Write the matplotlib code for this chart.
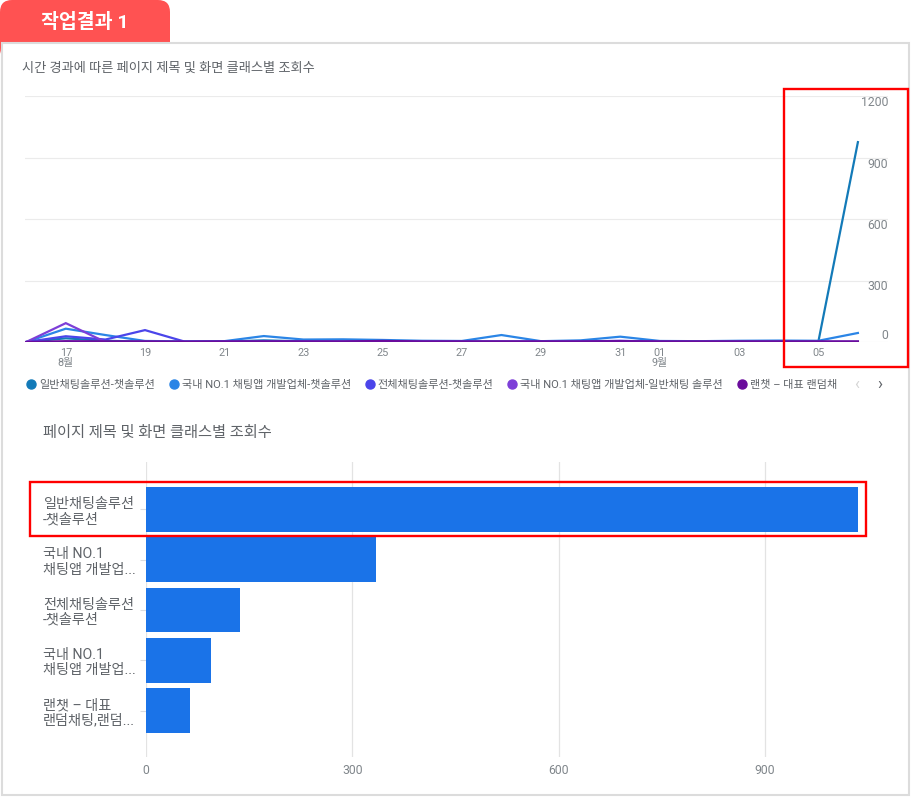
import numpy as np
import matplotlib
matplotlib.use("Agg")
import matplotlib.pyplot as plt
from matplotlib.patches import Rectangle, FancyBboxPatch
from matplotlib.lines import Line2D

plt.rcParams['font.family'] = ['Roboto', 'Noto Sans CJK KR', 'DejaVu Sans']

# ---- data ----
dates = ['08-16', '08-17', '08-18', '08-19', '08-20', '08-21', '08-22', '08-23',
         '08-24', '08-25', '08-26', '08-27', '08-28', '08-29', '08-30', '08-31',
         '09-01', '09-02', '09-03', '09-04', '09-05', '09-06']

series_names = ['일반채팅솔루션-챗솔루션',
                '국내 NO.1 채팅앱 개발업체-챗솔루션',
                '전체채팅솔루션-챗솔루션',
                '국내 NO.1 채팅앱 개발업체-일반채팅 솔루션',
                '랜챗 – 대표 랜덤채']

general_chat = [0, 18, 6, 2, 1, 2, 8, 3, 2, 3, 1, 2, 2, 1, 2, 3, 1, 1, 1, 2, 0, 975]
no1_chat = [0, 65, 34, 5, 3, 4, 29, 12, 13, 10, 6, 5, 34, 4, 8, 26, 5, 4, 6, 7, 6, 44]
all_chat = [0, 28, 12, 58, 2, 2, 3, 3, 2, 5, 2, 2, 2, 2, 2, 6, 1, 1, 1, 1, 1, 1]
no1_general = [0, 92, 0, 1, 0, 0, 0, 0, 0, 0, 0, 0, 0, 0, 0, 1, 0, 0, 0, 0, 0, 0]
random_chat = [0, 4, 3, 3, 2, 3, 3, 3, 3, 5, 3, 3, 3, 3, 3, 4, 3, 3, 3, 3, 3, 3]

tick_dates = ['08-17', '08-19', '08-21', '08-23', '08-25', '08-27', '08-29',
              '08-31', '09-01', '09-03', '09-05']
tick_labels = ['17\n8월', '19', '21', '23', '25', '27', '29', '31', '01\n9월', '03', '05']

bar_labels = ['일반채팅솔루션\n-챗솔루션',
              '국내 NO.1\n채팅앱 개발업...',
              '전체채팅솔루션\n-챗솔루션',
              '국내 NO.1\n채팅앱 개발업...',
              '랜챗 – 대표\n랜덤채팅,랜덤...']
bar_values = [1035, 334, 137, 94, 64]

line_colors = ['#137ab8', '#2b85e6', '#4b45ea', '#7d3fd8', '#6a0c9c']
gray_text = '#5f6368'
tick_gray = '#80868b'

W, H = 911, 798


def fx(x):
    return x / W


def fy(y):
    return 1 - y / H


fig = plt.figure(figsize=(W / 100, H / 100), dpi=100)

# tab and card frame (pixel coordinates)
tab = FancyBboxPatch((0, H - 60), 170, 60, boxstyle="round,pad=0,rounding_size=12",
                     facecolor='#ff5252', edgecolor='none', transform=None, zorder=0)
fig.add_artist(tab)
frame = Rectangle((2, H - 795), 907, 795 - 43, facecolor='white', edgecolor='#dcdcdc',
                  lw=1.5, transform=None, zorder=0.5)
fig.add_artist(frame)
fig.text(fx(85), fy(22), '작업결과 1', color='white', fontsize=14, fontweight='bold',
         ha='center', va='center', zorder=3)

# ---- line chart ----
fig.text(fx(22), fy(68), '시간 경과에 따른 페이지 제목 및 화면 클래스별 조회수',
         fontsize=9.5, color=gray_text, va='center')

ax1 = fig.add_axes([fx(25), fy(342), (888 - 25) / W, (342 - 96) / H], zorder=2)
ax1.patch.set_alpha(0)
x = np.arange(len(dates))
all_series = [general_chat, no1_chat, all_chat, no1_general, random_chat]
for vals, c in zip(all_series, line_colors):
    ax1.plot(x, vals, color=c, lw=1.6, solid_joinstyle='miter')

ax1.set_xlim(-0.03, 21.76)
ax1.set_ylim(0, 1200)
ax1.set_yticks([0, 300, 600, 900, 1200])
ax1.yaxis.tick_right()
ax1.tick_params(axis='y', length=0, pad=0, labelsize=8.8, labelcolor=tick_gray)
for lab in ax1.get_yticklabels():
    lab.set_ha('right')
    lab.set_va('bottom' if lab.get_text() == '0' else 'top')
ax1.set_xticks([dates.index(d) for d in tick_dates])
ax1.set_xticklabels(tick_labels, linespacing=1.0)
ax1.tick_params(axis='x', length=0, pad=4, labelsize=7.8, labelcolor=tick_gray)
ax1.grid(axis='y', color='#ebebeb', lw=0.8)
ax1.set_axisbelow(True)
for s in ax1.spines.values():
    s.set_visible(False)

handles = [Line2D([], [], marker='o', ls='none', color=c, markersize=6.5) for c in line_colors]
fig.legend(handles, series_names, loc='center left', bbox_to_anchor=(fx(20), fy(385)),
           ncol=5, frameon=False, fontsize=8, handletextpad=0.15, columnspacing=1.05,
           handlelength=1.2, labelcolor=gray_text, borderaxespad=0)
fig.text(fx(857), fy(384), '‹', color='#d5d5d5', fontsize=12, ha='center', va='center')
fig.text(fx(880), fy(384), '›', color=gray_text, fontsize=12, ha='center', va='center')

# ---- bar chart ----
fig.text(fx(43), fy(433), '페이지 제목 및 화면 클래스별 조회수', fontsize=11,
         color=gray_text, va='center')

ax2 = fig.add_axes([fx(146), fy(757), (868 - 146) / W, (757 - 462) / H], zorder=2)
ax2.patch.set_alpha(0)
ypos = np.arange(len(bar_values))
ax2.barh(ypos, bar_values, height=0.895, color='#1a73e8', zorder=2)
ax2.set_xlim(0, 1050)
ax2.set_ylim(4.925, -0.945)
ax2.set_xticks([0, 300, 600, 900])
ax2.tick_params(axis='x', length=0, pad=5, labelsize=8.8, labelcolor=tick_gray)
ax2.set_yticks(ypos)
ax2.set_yticklabels(bar_labels, linespacing=1.12)
ax2.tick_params(axis='y', length=4.3, width=0.8, color='#dadce0', pad=70,
                labelsize=10.2, labelcolor=gray_text)
for lab in ax2.get_yticklabels():
    lab.set_ha('left')
ax2.grid(axis='x', color='#e3e3e3', lw=0.9)
ax2.set_axisbelow(True)
for s in ax2.spines.values():
    s.set_visible(False)

# red highlight boxes (pixel coordinates)
for (x0, y0, x1, y1) in [(784, 89, 908, 367), (30, 482, 866, 536)]:
    fig.add_artist(Rectangle((x0, H - y1), x1 - x0, y1 - y0, fill=False,
                             edgecolor='#ff0000', lw=1.7, transform=None, zorder=5))

fig.savefig('out.png', dpi=100)
